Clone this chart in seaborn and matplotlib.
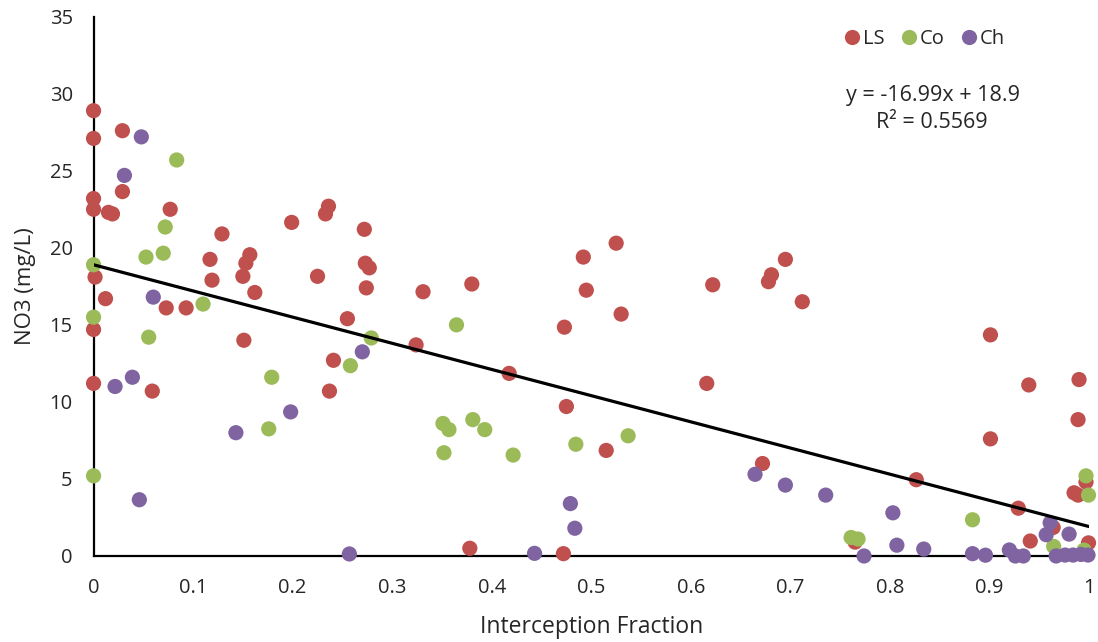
import numpy as np
import pandas as pd
import seaborn as sns
import matplotlib
matplotlib.use("Agg")
import matplotlib.pyplot as plt

# ---- data ----
ls_x = [0, 0, 0, 0, 0.0015, 0, 0,
        0.012, 0.015, 0.019, 0.029, 0.029, 0.077, 0.059, 0.073, 0.093,
        0.117, 0.119, 0.129, 0.150, 0.153, 0.157, 0.151, 0.162,
        0.199, 0.225, 0.233, 0.236, 0.237, 0.241, 0.255,
        0.272, 0.273, 0.277, 0.274,
        0.324, 0.331, 0.380, 0.378, 0.4175,
        0.472, 0.473, 0.475, 0.492, 0.495, 0.515, 0.525, 0.530,
        0.616, 0.622, 0.672, 0.678, 0.681, 0.695, 0.712,
        0.765, 0.8265, 0.901, 0.901, 0.929, 0.9395, 0.941, 0.964,
        0.985, 0.989, 0.990, 0.989, 0.997, 0.9995]
ls_y = [28.9, 27.1, 23.2, 22.5, 18.1, 14.7, 11.2,
        16.7, 22.3, 22.2, 27.6, 23.65, 22.5, 10.7, 16.1, 16.1,
        19.25, 17.9, 20.9, 18.15, 19.0, 19.55, 14.0, 17.1,
        21.65, 18.15, 22.2, 22.7, 10.7, 12.7, 15.4,
        21.2, 19.0, 18.7, 17.4,
        13.7, 17.15, 17.65, 0.5, 11.85,
        0.15, 14.85, 9.7, 19.4, 17.25, 6.85, 20.3, 15.7,
        11.2, 17.6, 6.0, 17.8, 18.25, 19.25, 16.5,
        0.9, 4.95, 14.35, 7.6, 3.1, 11.1, 0.97, 1.85,
        4.1, 3.95, 11.45, 8.85, 4.8, 0.85]

co_x = [0, 0, 0, 0.0527, 0.0554, 0.070, 0.072, 0.0835, 0.110, 0.176, 0.179,
        0.258, 0.279, 0.351, 0.352, 0.357, 0.3646, 0.381, 0.393, 0.4215,
        0.4845, 0.537, 0.761, 0.768, 0.883, 0.9645, 0.995, 0.997, 0.9995]
co_y = [18.9, 15.5, 5.2, 19.4, 14.2, 19.65, 21.35, 25.7, 16.35, 8.25, 11.6,
        12.35, 14.15, 8.6, 6.7, 8.2, 15.0, 8.85, 8.2, 6.55,
        7.25, 7.8, 1.2, 1.1, 2.35, 0.62, 0.38, 5.2, 3.95]

ch_x = [0.0216, 0.031, 0.039, 0.046, 0.048, 0.060, 0.143, 0.198, 0.257, 0.270,
        0.443, 0.479, 0.4835, 0.6645, 0.695, 0.7355, 0.774, 0.803, 0.807, 0.834,
        0.883, 0.896, 0.920, 0.926, 0.934, 0.957, 0.961, 0.967, 0.976, 0.980,
        0.984, 0.992, 0.999]
ch_y = [11.0, 24.7, 11.6, 3.65, 27.2, 16.8, 8.0, 9.35, 0.13, 13.25,
        0.17, 3.4, 1.8, 5.3, 4.6, 3.95, 0.0, 2.8, 0.7, 0.45,
        0.15, 0.05, 0.39, 0.0, 0.0, 1.38, 2.15, 0.0, 0.06, 1.42,
        0.06, 0.1, 0.06]

series_names = ["LS", "Co", "Ch"]
series_colors = ["#C0504D", "#9BBB59", "#8064A2"]
trend_slope = -16.99
trend_intercept = 18.9
trend_label = "y = -16.99x + 18.9"
r2_label = "R\u00b2 = 0.5569"
x_ticks = [0, 0.1, 0.2, 0.3, 0.4, 0.5, 0.6, 0.7, 0.8, 0.9, 1]
x_ticklabels = ["0", "0.1", "0.2", "0.3", "0.4", "0.5", "0.6", "0.7", "0.8", "0.9", "1"]
y_ticks = [0, 5, 10, 15, 20, 25, 30, 35]

df = pd.concat([
    pd.DataFrame({"x": ls_x, "y": ls_y, "series": "LS"}),
    pd.DataFrame({"x": co_x, "y": co_y, "series": "Co"}),
    pd.DataFrame({"x": ch_x, "y": ch_y, "series": "Ch"}),
], ignore_index=True)

sns.set_style("white")
plt.rcParams["font.family"] = ["Open Sans", "DejaVu Sans"]

fig = plt.figure(figsize=(10.98, 6.42), dpi=100)
ax = fig.add_axes([0.0852, 0.134, 0.9066, 0.840])

sns.scatterplot(data=df, x="x", y="y", hue="series", hue_order=series_names,
                palette=series_colors, s=120, linewidth=0, ax=ax,
                clip_on=False, zorder=3)

trend_x = np.array([0.0, 1.0])
trend_df = pd.DataFrame({"x": trend_x, "y": trend_slope * trend_x + trend_intercept})
sns.lineplot(data=trend_df, x="x", y="y", color="black", linewidth=2.3, ax=ax,
             zorder=4, legend=False)

ax.set_xlim(0, 1)
ax.set_ylim(0, 35)
ax.set_xticks(x_ticks)
ax.set_xticklabels(x_ticklabels)
ax.set_yticks(y_ticks)
for s in ["top", "right"]:
    ax.spines[s].set_visible(False)
for s in ["left", "bottom"]:
    ax.spines[s].set_color("black")
    ax.spines[s].set_linewidth(1.6)
ax.tick_params(axis="both", direction="in", length=5, width=1.5, colors="black",
               labelsize=14.5, labelcolor="#262626")
ax.tick_params(axis="x", pad=16)
ax.tick_params(axis="y", pad=15)
ax.set_xlabel("Interception Fraction", fontsize=16.5, color="#262626", labelpad=12)
ax.set_ylabel("NO3 (mg/L)", fontsize=16, color="#262626", labelpad=10)
ax.grid(False)

handles, labels = ax.get_legend_handles_labels()
ax.legend(handles, labels, loc="upper right", bbox_to_anchor=(0.928, 1.0),
          ncol=3, frameon=False, fontsize=14.5, handletextpad=0.05,
          columnspacing=0.7, markerscale=1.0, borderaxespad=0.2,
          handlelength=1.0)

fig.text(933 / 1098, 1 - 95 / 642, trend_label, ha="center", va="center",
         fontsize=15.5, color="#262626")
fig.text(932 / 1098, 1 - 123 / 642, r2_label, ha="center", va="center",
         fontsize=15.5, color="#262626")

fig.savefig("out.png", dpi=100)
